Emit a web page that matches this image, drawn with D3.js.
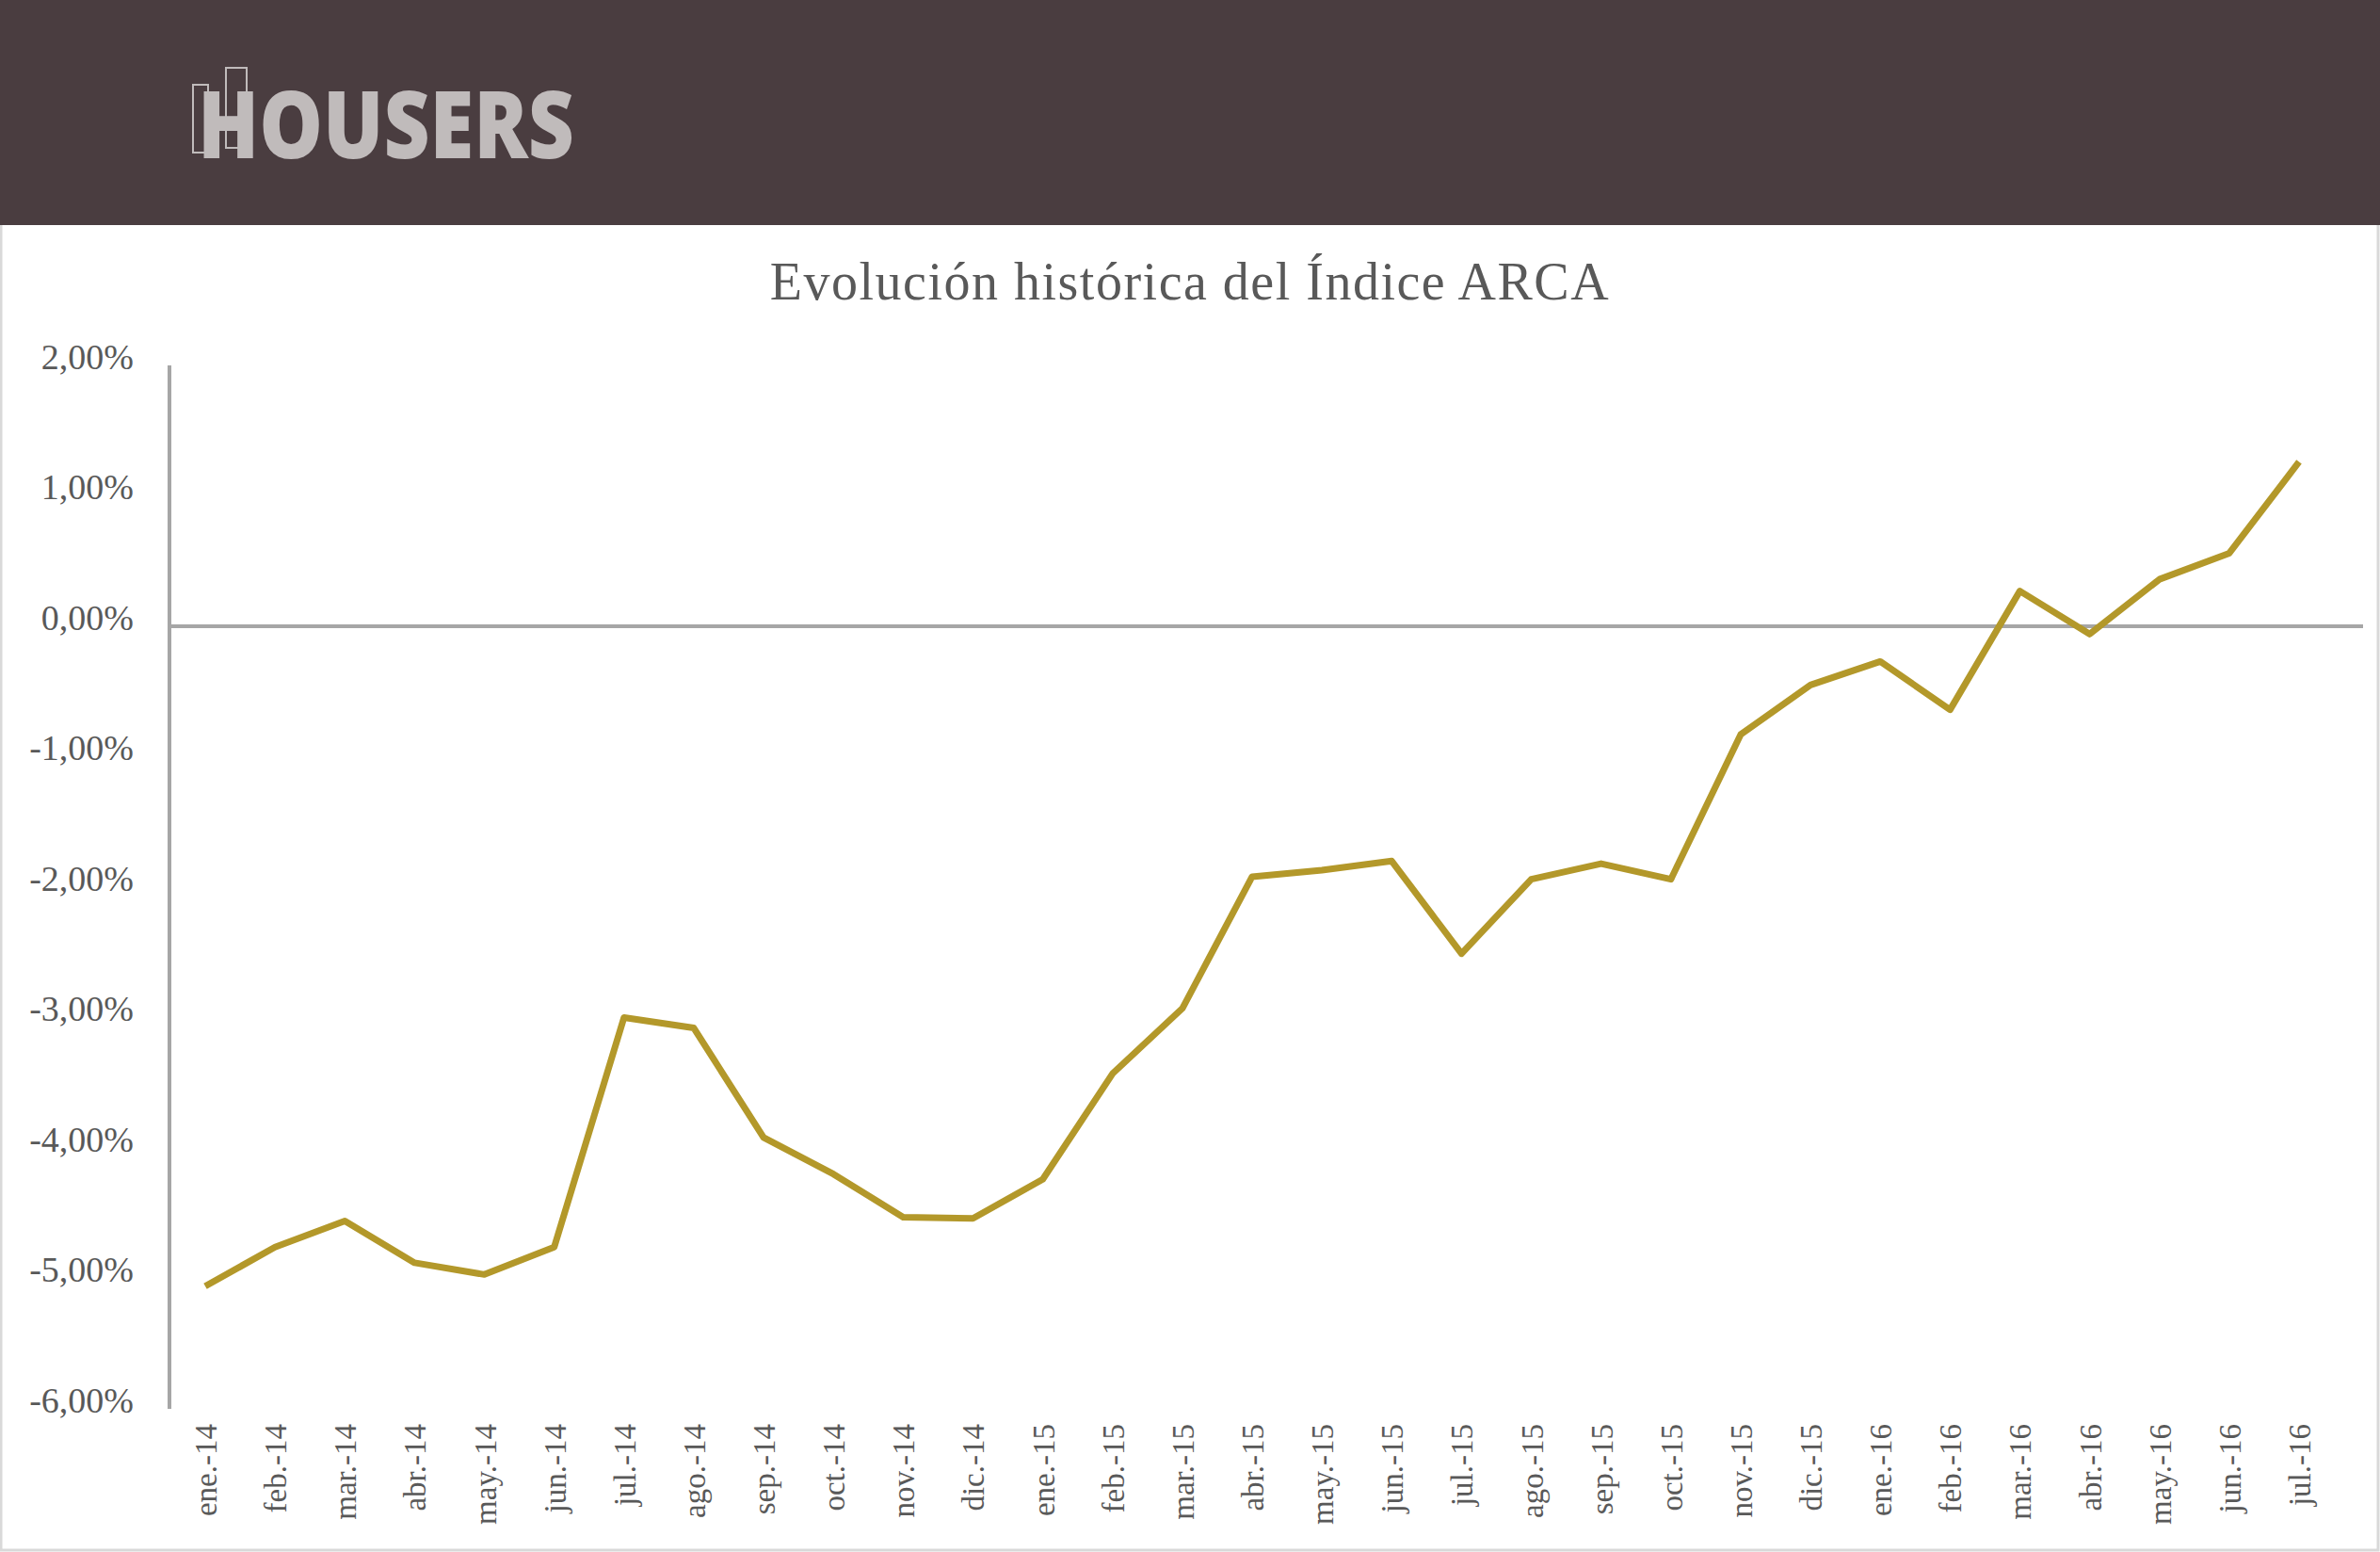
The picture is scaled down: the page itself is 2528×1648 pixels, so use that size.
<!DOCTYPE html>
<html><head><meta charset="utf-8">
<script src="https://cdn.jsdelivr.net/npm/d3@7"></script>
<style>body{margin:0;background:#fff}svg{display:block}</style>
</head><body>
<script>
const categories = ["ene.-14","feb.-14","mar.-14","abr.-14","may.-14","jun.-14","jul.-14","ago.-14","sep.-14","oct.-14","nov.-14","dic.-14","ene.-15","feb.-15","mar.-15","abr.-15","may.-15","jun.-15","jul.-15","ago.-15","sep.-15","oct.-15","nov.-15","dic.-15","ene.-16","feb.-16","mar.-16","abr.-16","may.-16","jun.-16","jul.-16"];
const values = [-5.06,-4.76,-4.56,-4.88,-4.97,-4.76,-3.00,-3.08,-3.92,-4.20,-4.53,-4.54,-4.24,-3.43,-2.93,-1.92,-1.87,-1.80,-2.51,-1.94,-1.82,-1.94,-0.83,-0.45,-0.27,-0.64,0.27,-0.06,0.36,0.56,1.26];
const yTicks = [2,1,0,-1,-2,-3,-4,-5,-6];
const title = "Evolución histórica del Índice ARCA";

const W=2528,H=1648;
const svg=d3.select("body").append("svg").attr("width",W).attr("height",H);
svg.append("rect").attr("x",1).attr("y",1).attr("width",W-3).attr("height",H-3).attr("fill","#fff").attr("stroke","#d9d9d9").attr("stroke-width",3);
svg.append("rect").attr("x",0).attr("y",0).attr("width",W).attr("height",239).attr("fill","#4a3d40");
const lg=svg.append("g");
lg.append("rect").attr("x",205).attr("y",90).attr("width",16).attr("height",72).attr("fill","none").attr("stroke","#c0bbbb").attr("stroke-width",2);
lg.append("rect").attr("x",240).attr("y",72).attr("width",22).attr("height",85).attr("fill","none").attr("stroke","#c0bbbb").attr("stroke-width",2);
lg.append("text").attr("x",210).attr("y",168).attr("font-family","Open Sans").attr("font-weight",800).attr("font-size",100)
  .attr("textLength",400).attr("lengthAdjust","spacingAndGlyphs").attr("fill","#c0bbbb").text("HOUSERS");

svg.append("text").attr("x",1264).attr("y",318).attr("text-anchor","middle").attr("font-family","Liberation Serif").attr("font-size",56).attr("letter-spacing",1.5).attr("fill","#595959").text(title);

const x=d3.scalePoint().domain(categories).range([218,2442]);
const y=d3.scaleLinear().domain([-6,2]).range([1496,388]);
const font="Liberation Serif", tc="#595959";
svg.append("line").attr("x1",180).attr("x2",180).attr("y1",y(2)).attr("y2",y(-6)).attr("stroke","#a6a6a6").attr("stroke-width",4);
svg.append("line").attr("x1",178).attr("x2",2510).attr("y1",y(0)).attr("y2",y(0)).attr("stroke","#a6a6a6").attr("stroke-width",4);
const fmt=d=>d.toFixed(2).replace(".",",")+"%";
svg.selectAll(".yt").data(yTicks).join("text").attr("x",142).attr("y",d=>y(d)).attr("dy","0.1em")
  .attr("text-anchor","end").attr("font-family",font).attr("font-size",38).attr("fill",tc).text(fmt);
svg.selectAll(".xt").data(categories).join("text")
  .attr("transform",d=>`translate(${x(d)+12},1512) rotate(-90)`).attr("text-anchor","end")
  .attr("font-family",font).attr("font-size",33).attr("fill",tc).text(d=>d);
const line=d3.line().x((d,i)=>x(categories[i])).y(d=>y(d));
svg.append("path").datum(values).attr("d",line).attr("fill","none").attr("stroke","#b3982a").attr("stroke-width",7).attr("stroke-linejoin","round");
</script>
</body></html>
